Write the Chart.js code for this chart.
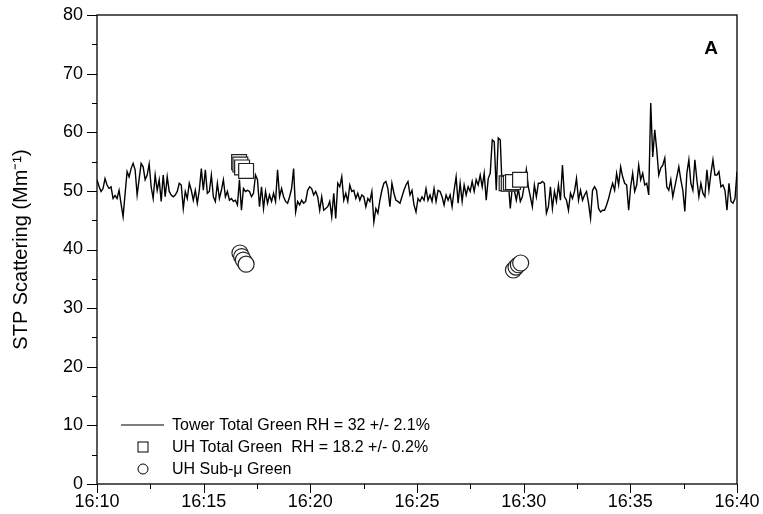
<!DOCTYPE html>
<html>
<head>
<meta charset="utf-8">
<script src="https://cdn.jsdelivr.net/npm/chart.js@4.4.1/dist/chart.umd.min.js"></script>
<style>
  body { margin: 0; background: #fff; }
  #wrap { width: 763px; height: 514px; }
</style>
</head>
<body>
<div id="wrap"><canvas id="stp"></canvas></div>
<script>
// minutes after 16:00
const T_START = 10;
const T_END = 40;
const X_TICKS = [10, 15, 20, 25, 30, 35, 40];
const Y_TICKS = [0, 10, 20, 30, 40, 50, 60, 70, 80];

// tower nephelometer, total green, evenly sampled 16:10 -> 16:40
const towerGreen = [
  51.9, 50.8, 49.9, 50.4, 52.1, 51.0, 50.4, 50.7, 48.7, 49.2, 48.7, 50.1, 47.8, 45.6, 49.5, 53.3,
  52.4, 53.8, 54.7, 53.6, 49.3, 52.0, 54.7, 54.1, 51.9, 52.7, 54.6, 50.7, 48.7, 52.7, 50.1, 51.9,
  48.2, 52.7, 49.0, 52.4, 49.9, 49.3, 49.0, 49.3, 49.9, 51.3, 51.0, 47.0, 49.9, 48.7, 51.3, 50.1,
  48.4, 50.1, 47.9, 50.1, 53.8, 50.1, 53.6, 49.6,
  49.9, 52.7, 49.0, 48.2, 51.3, 48.7, 50.1, 51.9, 49.0, 49.9, 48.4, 48.7, 48.2, 48.4, 47.6, 51.9,
  46.7, 50.4, 49.9, 50.1, 49.9, 49.0, 49.6, 52.7, 51.9, 47.3, 50.7, 47.0, 49.9, 47.9, 49.3, 48.2,
  49.6, 48.2, 53.6, 49.0, 50.4, 49.0, 48.2, 47.9, 49.0, 50.4, 53.8, 46.4, 48.2, 47.6, 48.4, 47.9,
  48.2, 50.1, 50.7, 50.4, 49.3, 49.9,
  49.0, 46.7, 49.0, 46.7, 47.0, 47.3, 48.2, 45.6, 49.6, 45.3, 51.3, 50.7, 52.4, 48.4, 49.6, 48.2,
  51.0, 49.9, 50.1, 48.7, 49.6, 48.4, 49.3, 49.0, 47.3, 48.7, 48.2, 49.9, 44.7, 47.0, 46.2, 48.4,
  50.1, 51.3, 51.6, 50.4, 47.3, 51.3, 49.6, 48.4, 48.2, 47.9, 49.0, 50.1, 51.0, 51.6, 49.3, 50.1,
  47.6, 46.4, 48.7, 48.2, 49.0, 48.4, 50.4,
  48.4, 49.3, 48.2, 50.4, 48.2, 50.1, 49.9, 49.0, 47.6, 49.3, 48.4, 49.3, 47.3, 50.1, 52.4, 47.9,
  51.3, 48.2, 51.0, 49.3, 50.7, 49.9, 51.6, 49.9, 51.9, 51.0, 52.7, 50.7, 53.0, 48.4, 52.1, 53.0,
  58.7, 58.4, 50.1, 59.0, 58.7, 49.9, 52.1, 50.7, 51.6, 47.0, 50.7, 50.1, 48.4, 50.4, 48.2, 49.0,
  51.0, 53.6, 50.7, 49.0, 47.3, 51.0, 49.0, 51.3,
  51.3, 51.6, 51.3, 46.2, 47.3, 50.7, 47.0, 49.9, 48.2, 51.0, 48.4, 54.4, 49.0, 48.4, 46.7, 49.6,
  48.7, 49.9, 52.1, 48.4, 50.1, 48.4, 49.3, 49.9, 47.9, 45.3, 50.1, 50.7, 50.1, 47.0, 46.4, 46.7,
  46.7, 47.6, 48.7, 50.1, 51.3, 50.1, 53.0, 51.0, 54.1, 52.4, 51.3, 51.0, 46.7, 50.7, 53.0, 49.9,
  51.0, 54.4, 51.9, 53.0, 51.0, 51.3, 49.3,
  65.0, 55.8, 60.4, 57.0, 52.7, 53.9, 54.4, 55.6, 50.7, 50.1, 51.9, 49.0, 50.7, 52.4, 54.1, 51.9,
  50.1, 46.5, 53.0, 55.3, 51.3, 50.1, 55.3, 51.9, 49.0, 51.3, 49.6, 49.0, 53.6, 50.1, 53.0, 55.3,
  52.7, 52.7, 53.3, 50.7, 51.0, 50.1, 46.7, 51.3, 48.2, 47.9, 48.7, 53.3
];

// UH total green (squares)
const uhTotalTimes = [16.66, 16.72, 16.8, 16.99, 29.2, 29.3, 29.4, 29.5, 29.83];
const uhTotalValues = [54.9, 54.5, 54.0, 53.4, 51.3, 51.2, 51.4, 51.5, 51.9];

// UH sub-micron green (circles)
const uhSubTimes = [16.7, 16.78, 16.86, 16.99, 29.52, 29.64, 29.75, 29.86];
const uhSubValues = [39.4, 38.8, 38.2, 37.5, 36.5, 37.0, 37.4, 37.7];

const LEGEND_LABELS = [
  'Tower Total Green RH = 32 +/- 2.1%',
  'UH Total Green  RH = 18.2 +/- 0.2%',
  'UH Sub-\u03bc Green'
];

const FONT = 'Liberation Sans, Arial, sans-serif';

const step = (T_END - T_START) / (towerGreen.length - 1);
const towerPoints = towerGreen.map((v, i) => ({ x: T_START + i * step, y: v }));
const uhTotalPoints = uhTotalTimes.map((t, i) => ({ x: t, y: uhTotalValues[i] }));
const uhSubPoints = uhSubTimes.map((t, i) => ({ x: t, y: uhSubValues[i] }));

// frame, outward ticks, panel letter and legend
const decorPlugin = {
  id: 'decor',
  afterDraw(chart) {
    const ctx = chart.ctx;
    const a = chart.chartArea;
    const xs = chart.scales.x;
    const ys = chart.scales.y;
    ctx.save();
    ctx.strokeStyle = '#000';
    ctx.lineWidth = 1.3;
    ctx.strokeRect(a.left, a.top, a.right - a.left, a.bottom - a.top);

    ctx.lineWidth = 1;
    ctx.beginPath();
    for (let t = T_START; t <= T_END + 0.01; t += 2.5) {
      const px = Math.round(xs.getPixelForValue(t)) + 0.5;
      const len = t % 5 === 0 ? 9 : 5;
      ctx.moveTo(px, a.bottom);
      ctx.lineTo(px, a.bottom + len);
    }
    for (let v = 0; v <= 80; v += 5) {
      const py = Math.round(ys.getPixelForValue(v)) + 0.5;
      const len = v % 10 === 0 ? 10 : 5;
      ctx.moveTo(a.left, py);
      ctx.lineTo(a.left - len, py);
    }
    ctx.stroke();

    ctx.fillStyle = '#000';
    ctx.font = 'bold 19px ' + FONT;
    ctx.textAlign = 'center';
    ctx.textBaseline = 'middle';
    ctx.fillText('A', 711, 49);

    // legend
    ctx.font = '16px ' + FONT;
    ctx.textAlign = 'left';
    const lx = 143, tx = 172;
    const rows = [425, 447, 469];
    ctx.lineWidth = 1.2;
    ctx.beginPath();
    ctx.moveTo(121, rows[0]);
    ctx.lineTo(164, rows[0]);
    ctx.stroke();
    ctx.lineWidth = 1;
    ctx.strokeRect(lx - 5, rows[1] - 5, 10, 10);
    ctx.beginPath();
    ctx.arc(lx, rows[2], 5, 0, Math.PI * 2);
    ctx.stroke();
    LEGEND_LABELS.forEach((s, i) => ctx.fillText(s, tx, rows[i] + 1));
    ctx.restore();
  }
};

new Chart(document.getElementById('stp'), {
  type: 'scatter',
  data: {
    datasets: [
      {
        label: 'Tower Total Green',
        data: towerPoints,
        showLine: true,
        borderColor: '#000',
        borderWidth: 1.4,
        pointRadius: 0,
        tension: 0,
        order: 3
      },
      {
        label: 'UH Total Green',
        data: uhTotalPoints,
        pointStyle: 'rect',
        pointRadius: 10.5,
        borderColor: '#222',
        borderWidth: 1.2,
        backgroundColor: '#fff',
        order: 2
      },
      {
        label: 'UH Sub-micron Green',
        data: uhSubPoints,
        pointStyle: 'circle',
        pointRadius: 8,
        borderColor: '#222',
        borderWidth: 1.2,
        backgroundColor: '#fff',
        order: 1
      }
    ]
  },
  options: {
    responsive: true,
    maintainAspectRatio: false,
    animation: false,
    layout: { padding: { left: 0, right: 26, top: 15, bottom: 0 } },
    plugins: { legend: { display: false }, tooltip: { enabled: false } },
    scales: {
      x: {
        type: 'linear',
        min: T_START,
        max: T_END,
        afterFit: (s) => { s.height = 30; },
        afterBuildTicks: (s) => { s.ticks = X_TICKS.map(v => ({ value: v })); },
        ticks: {
          callback: (v) => '16:' + v,
          font: { family: FONT, size: 18 },
          color: '#000',
          padding: 2,
          maxRotation: 0,
          autoSkip: false
        },
        grid: { drawOnChartArea: false, tickLength: 5, tickColor: 'rgba(0,0,0,0)' },
        border: { display: false }
      },
      y: {
        min: 0,
        max: 80,
        afterFit: (s) => { s.width = 97; },
        afterBuildTicks: (s) => { s.ticks = Y_TICKS.map(v => ({ value: v })); },
        ticks: {
          font: { family: FONT, size: 18 },
          color: '#000',
          padding: 4
        },
        grid: { drawOnChartArea: false, tickLength: 10, tickColor: 'rgba(0,0,0,0)' },
        border: { display: false },
        title: {
          display: true,
          text: 'STP Scattering (Mm\u207b\u00b9)',
          font: { family: FONT, size: 20 },
          color: '#000',
          padding: { top: 9, bottom: 0 }
        }
      }
    }
  },
  plugins: [decorPlugin]
});
</script>
</body>
</html>
